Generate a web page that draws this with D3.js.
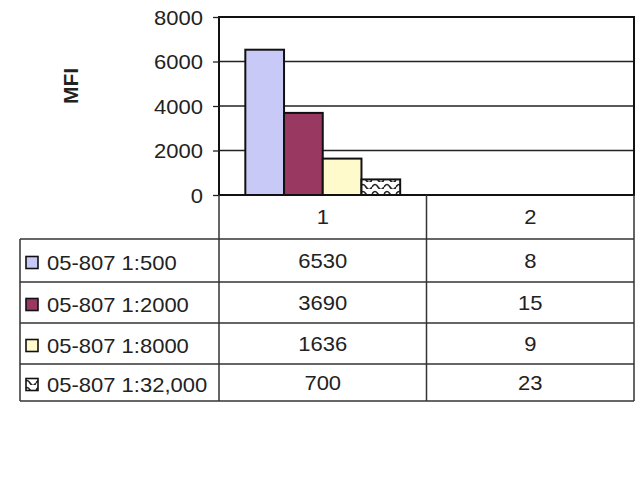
<!DOCTYPE html>
<html><head><meta charset="utf-8">
<script src="https://cdn.jsdelivr.net/npm/d3@7"></script>
<style>body{margin:0;background:#fff;}svg{display:block;font-family:"Liberation Sans",Arial,sans-serif;}</style>
</head><body>
<script>
const categories = ["1", "2"];
const seriesNames = ["05-807 1:500", "05-807 1:2000", "05-807 1:8000", "05-807 1:32,000"];
const values1 = [6530, 3690, 1636, 700];
const values2 = [8, 15, 9, 23];
const seriesColors = ["#c9c9f7", "#993860", "#fffacc", "url(#wave)"];
const yTicks = [0, 2000, 4000, 6000, 8000];
const yLabel = "MFI";

(function () {
const data = seriesNames.map((name, i) => ({name, vals: [values1[i], values2[i]], color: seriesColors[i]}));

const W = 640, H = 480, FS = 20, SX = 1.1;
const svg = d3.select("body").append("svg").attr("width", W).attr("height", H);
const defs = svg.append("defs");
const pat = defs.append("pattern").attr("id", "wave").attr("patternUnits", "userSpaceOnUse")
  .attr("width", 12).attr("height", 7);
pat.append("rect").attr("width", 12).attr("height", 7).attr("fill", "#fff");
pat.append("path").attr("d", "M0,5 Q3,0 6,5 T12,5").attr("fill", "none").attr("stroke", "#222").attr("stroke-width", 1.6);

const pLeft = 219, pRight = 634, pTop = 17, pBottom = 195;
const tableLeft = 20, rowH = [239, 282, 323, 364, 401];

const x = d3.scaleBand().domain(categories).range([pLeft, pRight]).paddingInner(0).paddingOuter(0);
const xs = d3.scaleBand().domain(seriesNames).range([0, x.bandwidth()]).paddingInner(0).paddingOuter(0.68);
const y = d3.scaleLinear().domain([0, 8000]).range([pBottom, pTop]);

function txt(parent, tx, ty, s, anchor) {
  return parent.append("text").attr("transform", `translate(${tx},${ty}) scale(${SX},1)`)
    .attr("text-anchor", anchor || "start").attr("font-size", FS).attr("fill", "#222").text(s);
}

svg.append("g").selectAll("line").data(yTicks.filter(t => t > 0 && t < 8000)).join("line")
  .attr("x1", pLeft).attr("x2", pRight).attr("y1", d => y(d)).attr("y2", d => y(d))
  .attr("stroke", "#222").attr("stroke-width", 1.3);

const g = svg.append("g");
data.forEach(s => {
  g.append("g").selectAll("rect").data(categories.map((c, j) => ({c, v: s.vals[j]}))).join("rect")
    .attr("x", d => x(d.c) + xs(s.name))
    .attr("width", xs.bandwidth())
    .attr("y", d => y(d.v))
    .attr("height", d => pBottom - y(d.v))
    .attr("fill", s.color).attr("stroke", "#111").attr("stroke-width", d => pBottom - y(d.v) > 2 ? 2 : 0);
});

svg.append("rect").attr("x", pLeft).attr("y", pTop).attr("width", pRight - pLeft).attr("height", pBottom - pTop)
  .attr("fill", "none").attr("stroke", "#111").attr("stroke-width", 2);

const yAxis = d3.axisLeft(y).tickValues(yTicks).tickSize(6).tickFormat(d3.format("d"));
const ya = svg.append("g").attr("transform", `translate(${pLeft},0)`).call(yAxis);
ya.select(".domain").remove();
ya.selectAll(".tick line").attr("stroke", "#222").attr("stroke-width", 1.3);
ya.selectAll(".tick text").attr("font-size", FS).attr("fill", "#222").attr("x", null).attr("dy", "0.35em")
  .attr("transform", `translate(-16,0) scale(${SX},1)`)
  .attr("font-family", "Liberation Sans, Arial, sans-serif");

svg.append("text").attr("transform", `translate(78,86) rotate(-90)`)
  .attr("text-anchor", "middle").attr("font-size", 21).attr("font-weight", "bold").attr("fill", "#222").text(yLabel);

const tl = svg.append("g").attr("stroke", "#333").attr("stroke-width", 1.5);
rowH.forEach(yy => tl.append("line").attr("x1", tableLeft).attr("x2", pRight).attr("y1", yy).attr("y2", yy));
tl.append("line").attr("x1", tableLeft).attr("x2", tableLeft).attr("y1", rowH[0]).attr("y2", rowH[4]);
[pLeft, x("2"), pRight].forEach(xx => tl.append("line").attr("x1", xx).attr("x2", xx).attr("y1", pBottom).attr("y2", rowH[4]));

const hg = svg.append("g");
categories.forEach(c => txt(hg, x(c) + x.bandwidth() / 2, (pBottom + rowH[0]) / 2 + 7, c, "middle"));

data.forEach((s, i) => {
  const cy = (rowH[i] + rowH[i + 1]) / 2;
  svg.append("rect").attr("x", 26).attr("y", cy - 4).attr("width", 12).attr("height", 12)
    .attr("fill", s.color).attr("stroke", "#111").attr("stroke-width", 1.6);
  txt(svg, 47, cy + 9, s.name);
  categories.forEach((c, j) => txt(svg, x(c) + x.bandwidth() / 2, cy + 7, String(s.vals[j]), "middle"));
});
})();
</script>
</body></html>
